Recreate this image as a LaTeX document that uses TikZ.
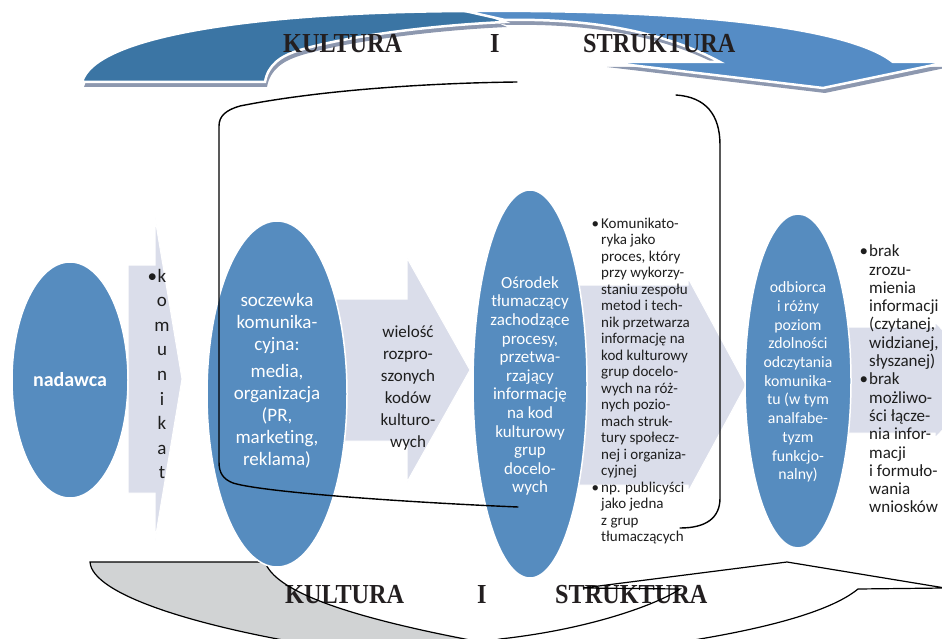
\documentclass[tikz,border=0pt]{standalone}
\usepackage{fontspec}
\usepackage{graphicx}
\setmainfont{Carlito}[Ligatures=NoCommon]
\newfontfamily\headfont{Liberation Serif}
\usetikzlibrary{shapes.geometric}
\definecolor{ellblue}{HTML}{568CBF}
\definecolor{lav}{HTML}{DADDEA}
\definecolor{arcdark}{HTML}{3B75A4}
\definecolor{arclight}{HTML}{558CC5}
\definecolor{arcshadow}{HTML}{8D98AF}
\definecolor{bandgray}{HTML}{D1D3D4}
\definecolor{ink}{HTML}{1E1E1E}
\definecolor{headink}{HTML}{231F20}
\newcommand{\tallword}[1]{\scalebox{0.97}[1.1]{#1}}

\begin{document}
\begin{tikzpicture}[x=1pt,y=-1pt,
  oval/.style={ellipse, fill=ellblue, draw=white, line width=1.5pt, inner sep=0pt},
  flowarrow/.style={fill=lav, draw=white, line width=1pt},
  ovaltext/.style={text=white, align=center, inner sep=0pt},
  listtext/.style={text=ink, align=left, inner sep=0pt, anchor=west},
  arrowtext/.style={text=ink, align=center, inner sep=0pt},
  headword/.style={text=headink, inner sep=0pt, anchor=base west,
    font=\headfont\bfseries\fontsize{25}{30}\selectfont},
  bandpart/.style={line width=2.5pt, draw=white},
  outline/.style={draw=black, line width=1.2pt},
  framestroke/.style={draw=black, line width=1.4pt, line cap=round}
]
\useasboundingbox (0,0) rectangle (942,639);
\clip (0,0) rectangle (942,639);

% ---------- upper curved band: shadow ----------
\begin{scope}[shift={(2,5)}]
  \fill[arcshadow] (82,82) -- (265,82) .. controls (268,65) and (280,56) .. (300,50)
     .. controls (340,38) and (420,26) .. (505,22) -- (480,11)
     .. controls (260,11) and (95,35) .. (82,82) -- cycle;
  \fill[arcshadow] (465,11) .. controls (700,9) and (850,28) .. (893,62) -- (948,62)
     -- (823,88) -- (605,62) -- (720,62) .. controls (670,35) and (600,18) .. (505,20) -- cycle;
\end{scope}
% ---------- upper curved band ----------
\path[bandpart, fill=arcdark] (82,82) -- (265,82) .. controls (268,65) and (280,56) .. (300,50)
     .. controls (340,38) and (420,26) .. (505,22) -- (480,11)
     .. controls (260,11) and (95,35) .. (82,82) -- cycle;
\path[bandpart, fill=arclight] (465,11) .. controls (700,9) and (850,28) .. (893,62) -- (948,62)
     -- (823,88) -- (605,62) -- (720,62) .. controls (670,35) and (600,18) .. (505,20) -- cycle;

\node[headword] (tk) at (283,53) {\tallword{KULTURA}};
\node[headword] (ti) at (490,53) {\tallword{I}};
\node[headword] (ts) at (583,53) {\tallword{STRUKTURA}};

% ---------- lower curved band ----------
\fill[bandgray] (90,562) -- (265,562) .. controls (275,590) and (340,615) .. (470,640)
   -- (480,660) -- (340,660) -- (330,648) .. controls (200,628) and (92,595) .. (90,562) -- cycle;
\fill[white] (680,589) -- (583,588) -- (787,562) -- (945,588) -- (858,589)
   .. controls (830,612) and (760,632) .. (640,648) -- (620,670) -- (440,670) -- (460,648)
   -- (500,639) .. controls (600,628) and (665,600) .. (680,589) -- cycle;

\node[headword] (bk) at (285,603) {\tallword{KULTURA}};
\node[headword] (bi) at (477,603) {\tallword{I}};
\node[headword] (bs) at (555,603) {\tallword{STRUKTURA}};

\draw[outline] (90,562) -- (265,562) .. controls (275,590) and (340,615) .. (470,640)
   -- (480,660) -- (340,660) -- (330,648) .. controls (200,628) and (92,595) .. (90,562) -- cycle;
\draw[outline] (680,589) -- (583,588) -- (787,562) -- (945,588) -- (858,589)
   .. controls (830,612) and (760,632) .. (640,648) -- (620,670) -- (440,670) -- (460,648)
   -- (500,639) .. controls (600,628) and (665,600) .. (680,589) -- cycle;

% ---------- process arrows ----------
\path[flowarrow] (128,265) -- (155,265) -- (155,218) -- (182,379) -- (155,540) -- (155,493) -- (128,493) -- cycle;
\path[flowarrow] (335,299) -- (407,299) -- (407,258) -- (470,370) -- (407,482) -- (407,441) -- (335,441) -- cycle;
\path[flowarrow] (560,285) -- (688,285) -- (688,278) -- (746,385) -- (688,492) -- (688,485) -- (560,485) -- cycle;
\path[flowarrow] (840,327) -- (935,327) -- (935,322) -- (990,380) -- (935,438) -- (935,433) -- (840,433) -- cycle;

% ---------- ovals ----------
\node[oval, minimum width=116pt, minimum height=236pt] (nad) at (70,380) {};
\node[oval, minimum width=140pt, minimum height=346pt] (socz) at (277,394) {};
\node[oval, minimum width=114pt, minimum height=388pt] (osr) at (530,384) {};
\node[oval, minimum width=106pt, minimum height=334pt] (odb) at (798,381) {};

% ---------- texts ----------
\node[ovaltext, font=\bfseries\fontsize{20}{24}\selectfont] (nadt) at (70,380) {nadawca};

\node[arrowtext, font=\fontsize{19}{24.6}\selectfont] (kom) at (162,374)
  {\llap{•\hspace{0.5pt}}k\\o\\m\\u\\n\\i\\k\\a\\t};

\node[ovaltext, font=\fontsize{19}{22}\selectfont] (soczt) at (277,381)
  {soczewka\\komunika-\\cyjna:\\[5pt]media,\\organizacja\\(PR,\\marketing,\\reklama)};

\node[arrowtext, font=\fontsize{17}{22}\selectfont] (wiel) at (408,388)
  {wielość\\rozpro-\\szonych\\kodów\\kulturo-\\wych};

\node[ovaltext, font=\fontsize{17}{18.6}\selectfont] (osrt) at (530,386)
  {Ośrodek\\tłumaczący\\zachodzące\\procesy,\\przetwa-\\rzający\\informację\\na kod\\kulturowy\\grup\\docelo-\\wych};

\node[listtext, font=\fontsize{15}{16.5}\selectfont] (komt) at (601,381)
  {\llap{•\hspace{2pt}}Komunikato-\\ryka jako\\proces, który\\przy wykorzy-\\staniu zespołu\\metod i tech-\\nik przetwarza\\informację na\\kod kulturowy\\grup docelo-\\wych na róż-\\nych pozio-\\mach struk-\\tury społecz-\\nej i organiza-\\cyjnej\\\llap{•\hspace{2pt}}np. publicyści\\jako jedna\\z grup\\tłumaczących};

\node[ovaltext, font=\fontsize{15.8}{18.7}\selectfont] (odbt) at (798,382)
  {odbiorca\\i różny\\poziom\\zdolności\\odczytania\\komunika-\\tu (w tym\\analfabe-\\tyzm\\funkcjo-\\nalny)};

\node[listtext, font=\fontsize{17}{18.3}\selectfont] (brak) at (869,379)
  {\llap{•\hspace{1pt}}brak\\zrozu-\\mienia\\informacji\\(czytanej,\\widzianej,\\słyszanej)\\\llap{•\hspace{1pt}}brak\\możliwo-\\ści łącze-\\nia infor-\\macji\\i formuło-\\wania\\wniosków};

% ---------- open frame ----------
\draw[framestroke] (518,507) .. controls (400,502) and (262,492) .. (233,483)
   .. controls (223,479) and (219,473) .. (219,462) -- (219,126)
   .. controls (219,116) and (226,110) .. (240,106)
   .. controls (320,90) and (430,83) .. (517,82);
\draw[framestroke] (676,95) .. controls (706,97) and (720,115) .. (720,145) -- (720,498)
   .. controls (720,518) and (706,528) .. (680,528);
\end{tikzpicture}
\end{document}
